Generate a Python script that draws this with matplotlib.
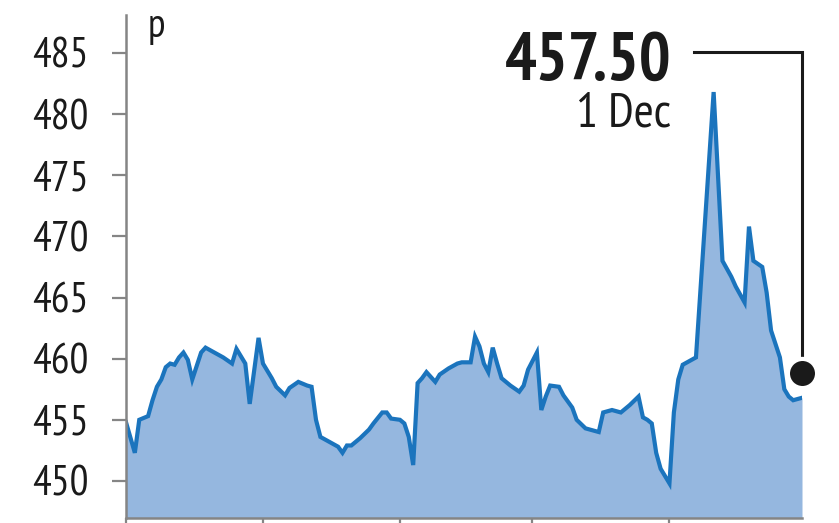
import matplotlib
matplotlib.use("Agg")
import matplotlib.pyplot as plt
from matplotlib import font_manager as fm
import pandas as pd

# ---- data ----
dates = [
    "2014-07-01", "2014-07-03", "2014-07-04", "2014-07-06", "2014-07-07", "2014-07-08",
    "2014-07-09", "2014-07-10", "2014-07-11", "2014-07-12", "2014-07-13", "2014-07-14",
    "2014-07-15", "2014-07-16", "2014-07-18", "2014-07-19", "2014-07-21", "2014-07-23",
    "2014-07-25", "2014-07-26", "2014-07-28", "2014-07-29", "2014-07-31", "2014-08-01",
    "2014-08-03", "2014-08-04", "2014-08-06", "2014-08-07", "2014-08-09", "2014-08-11",
    "2014-08-12", "2014-08-13", "2014-08-14", "2014-08-16", "2014-08-18", "2014-08-19",
    "2014-08-20", "2014-08-21", "2014-08-23", "2014-08-25", "2014-08-26", "2014-08-28",
    "2014-08-29", "2014-08-30", "2014-09-01", "2014-09-02", "2014-09-03", "2014-09-04",
    "2014-09-05", "2014-09-06", "2014-09-07", "2014-09-09", "2014-09-10", "2014-09-12",
    "2014-09-14", "2014-09-15", "2014-09-17", "2014-09-18", "2014-09-19", "2014-09-20",
    "2014-09-21", "2014-09-22", "2014-09-23", "2014-09-24", "2014-09-26", "2014-09-28",
    "2014-09-29", "2014-09-30", "2014-10-02", "2014-10-03", "2014-10-04", "2014-10-05",
    "2014-10-07", "2014-10-08", "2014-10-10", "2014-10-11", "2014-10-13", "2014-10-16",
    "2014-10-17", "2014-10-19", "2014-10-21", "2014-10-23", "2014-10-25", "2014-10-26",
    "2014-10-27", "2014-10-28", "2014-10-29", "2014-10-30", "2014-11-01", "2014-11-02",
    "2014-11-03", "2014-11-04", "2014-11-06", "2014-11-07", "2014-11-11", "2014-11-13",
    "2014-11-15", "2014-11-16", "2014-11-18", "2014-11-19", "2014-11-20", "2014-11-22",
    "2014-11-23", "2014-11-24", "2014-11-26", "2014-11-27", "2014-11-28", "2014-11-29",
    "2014-12-01",
]
prices = [
    454.8, 452.3, 455.0, 455.3, 456.6, 457.7,
    458.3, 459.3, 459.6, 459.5, 460.1, 460.5,
    459.9, 458.3, 460.5, 460.9, 460.5, 460.1,
    459.6, 460.8, 459.6, 456.3, 461.7, 459.6,
    458.4, 457.7, 457.0, 457.6, 458.1, 457.8,
    457.7, 455.0, 453.6, 453.2, 452.8, 452.3,
    452.9, 452.9, 453.5, 454.2, 454.7, 455.6,
    455.6, 455.1, 455.0, 454.7, 453.6, 451.3,
    458.0, 458.4, 458.9, 458.1, 458.7, 459.2,
    459.6, 459.7, 459.7, 461.8, 461.0, 459.6,
    458.9, 460.9, 459.6, 458.4, 457.8, 457.3,
    457.8, 459.1, 460.5, 455.8, 456.9, 457.8,
    457.7, 457.0, 456.0, 455.0, 454.3, 454.0,
    455.6, 455.8, 455.6, 456.2, 456.9, 455.2,
    455.0, 454.7, 452.3, 451.0, 449.8, 455.6,
    458.3, 459.5, 459.9, 460.1, 481.8, 468.0,
    466.7, 465.9, 464.6, 470.8, 468.0, 467.5,
    465.4, 462.3, 460.1, 457.5, 456.9, 456.6,
    456.8,
]
y_ticks = [450, 455, 460, 465, 470, 475, 480, 485]
x_ticks = ["2014-07-01", "2014-08-01", "2014-09-01", "2014-10-01", "2014-11-01"]
unit_label = "p"
last_price_label = "457.50"
last_date_label = "1 Dec"
marker_value = 458.8  # position of the end-of-series dot as drawn

# ---- styles ----
FILL = "#95b7df"
LINE = "#1b74bd"
GREY = "#858585"
INK = "#1a1a1a"

available = {f.name for f in fm.fontManager.ttflist}
prefs = ["PT Sans Narrow", "Fira Sans Extra Condensed", "Barlow Condensed",
         "Archivo Narrow", "Asap Condensed", "Liberation Sans"]
FONT = next(p for p in prefs if p in available)
plt.rcParams["font.family"] = [FONT, "DejaVu Sans"]

x = pd.to_datetime(dates)
fig = plt.figure(figsize=(8.39, 5.23), dpi=100)
ax = fig.add_axes([126 / 839, 5 / 523, 676 / 839, 503 / 523])

ymin, ymax = 446.97, 488.1
ax.fill_between(x, prices, ymin, color=FILL, lw=0, zorder=1)
ax.plot(x, prices, color=LINE, lw=3.0, solid_joinstyle="miter", zorder=2)

ax.set_ylim(ymin, ymax)
ax.set_xlim(pd.Timestamp("2014-07-01"), pd.Timestamp("2014-12-01"))

ax.set_yticks(y_ticks)
ax.set_yticklabels([str(v) for v in y_ticks])
ax.set_xticks(pd.to_datetime(x_ticks))
ax.tick_params(axis="y", direction="out", length=10, width=1.6, color=GREY,
               pad=17, labelsize=30, labelcolor=INK)
ax.tick_params(axis="x", direction="out", length=6, width=1.6, color=GREY,
               labelbottom=False)
for s in ("top", "right"):
    ax.spines[s].set_visible(False)
for s in ("left", "bottom"):
    ax.spines[s].set_color(GREY)
    ax.spines[s].set_linewidth(1.8)
    ax.spines[s].set_zorder(3)

# unit label
fig.text(148 / 839, 1 - 37 / 523, unit_label, fontsize=29, color=INK,
         ha="left", va="baseline")

# end annotation
end_date = x[-1]
conn_y = 485.1
ax.plot([pd.Timestamp("2014-11-06 12:00"), end_date, end_date],
        [conn_y, conn_y, marker_value], color=INK, lw=2.2, clip_on=False,
        solid_joinstyle="miter", zorder=4)
ax.plot([end_date], [marker_value], marker="o", markersize=21, color=INK,
        markeredgecolor="white", markeredgewidth=3, clip_on=False, zorder=5)
tx = pd.Timestamp("2014-11-01 10:00")
ax.text(tx, 482.8, last_price_label, fontsize=48, fontweight="bold", color=INK,
        ha="right", va="baseline", zorder=6)
ax.text(tx, 479.0, last_date_label, fontsize=35, color=INK,
        ha="right", va="baseline", zorder=6)

fig.savefig("out.png", dpi=100)
